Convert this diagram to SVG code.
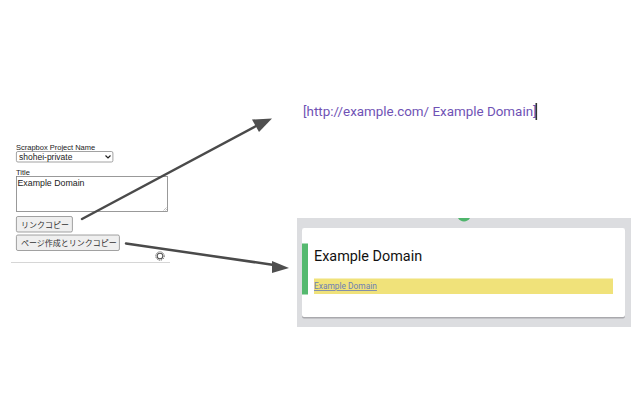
<svg xmlns="http://www.w3.org/2000/svg" width="640" height="400" viewBox="0 0 640 400">
<defs>
<style>
.s{font-family:"Liberation Sans",Arial,sans-serif;fill:#222}
.j{font-family:"Noto Sans CJK JP","Liberation Sans",sans-serif;font-size:8px;fill:#333}
.r{font-family:Roboto,"Liberation Sans",sans-serif}
.btn{fill:#efefef;stroke:#8a8a8a;stroke-width:.8}
.c{fill:none;stroke:#4a4a4a;stroke-width:2.5;stroke-linecap:round}
.h{fill:#4f4f4f}
</style>
</defs>
<rect width="640" height="400" fill="#fff"/>
<g id="form-labels">
<text class="s" x="16" y="149.500" font-size="7.500">Scrapbox Project Name</text>
<text class="s" x="16" y="174.500" font-size="7.500">Title</text>
</g>
<g id="select">
<rect x="16.400" y="151.500" width="96.500" height="10.500" rx="1.500" fill="#fff" stroke="#8a8a8a" stroke-width=".8"/>
<text class="s" x="19" y="160" font-size="8.500">shohei-private</text>
<path d="M105.500 155.500l2.500 2.500 2.500-2.500" fill="none" stroke="#222" stroke-width="1.200"/>
</g>
<g id="textarea">
<rect x="16.400" y="176.500" width="151" height="35" fill="#fff" stroke="#808080" stroke-width=".8"/>
<text class="s" x="17.500" y="186" font-size="8.800">Example Domain</text>
<path d="M163.500 210.500l3-3M165.500 210.500l1.500-1.500" stroke="#999" stroke-width=".6"/>
</g>
<g id="button-link-copy">
<rect class="btn" x="16.400" y="216.500" width="56" height="15.500" rx="1.500"/>
<text class="j" x="21" y="227.500">リンクコピー</text>
</g>
<g id="button-create-copy">
<rect class="btn" x="16.400" y="235" width="103" height="15.500" rx="1.500"/>
<text class="j" x="21" y="246">ページ作成とリンクコピー</text>
</g>
<g id="settings">
<circle cx="160" cy="256" r="2.800" fill="none" stroke="#555" stroke-width="1.100"/>
<circle cx="160" cy="256" r="4.200" fill="none" stroke="#555" stroke-width="1" stroke-dasharray="1.200 1"/>
<line x1="11" y1="262.500" x2="170" y2="262.500" stroke="#ccc" stroke-width=".8"/>
</g>
<g id="result-text">
<text class="r" x="303" y="115.500" font-size="13.400" fill="#6f52b5">[http://example.com/ Example Domain]</text>
<rect x="535.500" y="103" width="1.600" height="17" fill="#333"/>
</g>
<g id="card">
<rect x="297" y="218" width="334" height="109" fill="#dcdde0"/>
<path d="M458 218a7 7 0 0 0 12 0z" fill="#4fb56c"/>
<rect x="302" y="228.500" width="323" height="90" rx="2" fill="#a9a9ad"/>
<rect x="302" y="228" width="323" height="89" rx="2" fill="#fff"/>
<rect x="302" y="243.500" width="6" height="51" fill="#55b96f"/>
<text class="r" x="314" y="260.500" font-size="14.400" fill="#111">Example Domain</text>
<rect x="314" y="278.500" width="299" height="15.500" fill="#f0e27a"/>
<text class="r" x="314" y="289" font-size="8.400" fill="#6d80b5" text-decoration="underline">Example Domain</text>
</g>
<g id="connectors">
<line class="c" x1="82" y1="219" x2="258" y2="125"/>
<polygon class="h" points="272,118.500 252,119.500 259,132"/>
<line class="c" x1="126" y1="243.500" x2="274" y2="265"/>
<polygon class="h" points="289,268 272,261 272,273"/>
</g>
</svg>
